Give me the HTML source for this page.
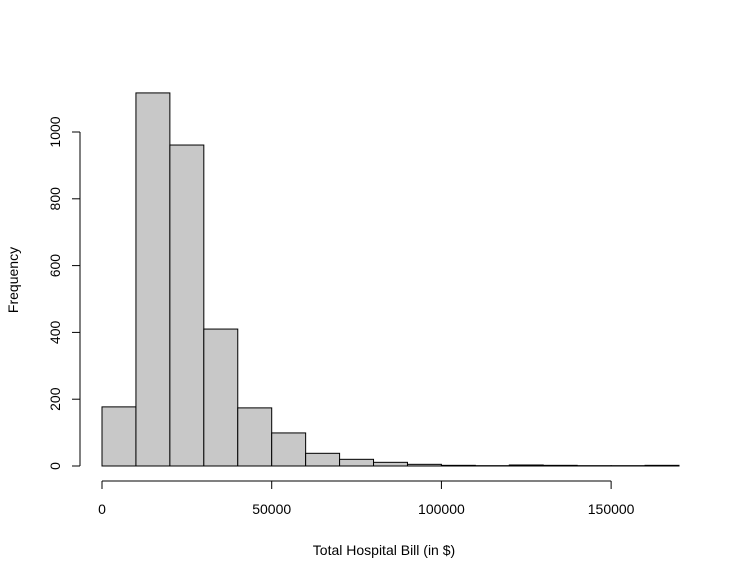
<!DOCTYPE html>
<html><head><meta charset="utf-8"><style>
body{margin:0;background:#fff}
svg{display:block;font-family:"Liberation Sans",sans-serif}
</style></head><body>
<svg id="chart" width="743" height="579" viewBox="0 0 743 579">
<g id="bars"></g>
<g id="xaxis"></g>
<g id="yaxis"></g>
<text x="384" y="555" font-size="14" text-anchor="middle">Total Hospital Bill (in $)</text>
<text transform="translate(18,280) rotate(-90)" font-size="14" text-anchor="middle">Frequency</text>
</svg>
<script>
const binStarts=[0,10000,20000,30000,40000,50000,60000,70000,80000,90000,100000,110000,120000,130000,140000,150000,160000];
const counts=[177,1117,961,410,174,99,38,20,11,5,2,1,3,2,1,1,2];
const xTicks=[0,50000,100000,150000];
const yTicks=[0,200,400,600,800,1000];
const binWidth=10000;
const NS="http://www.w3.org/2000/svg";
const sx=v=>102+v*577/170000;
const sy=v=>466-v*0.334;
function mk(tag,attrs,parent){const e=document.createElementNS(NS,tag);for(const k in attrs)e.setAttribute(k,attrs[k]);parent.appendChild(e);return e;}
const bars=document.getElementById('bars');
binStarts.forEach((b,i)=>{
 const r=mk('rect',{x:sx(b),y:sy(counts[i]),width:sx(b+binWidth)-sx(b),height:sy(0)-sy(counts[i]),fill:'#c8c8c8',stroke:'#000','stroke-width':1},bars);
 
 
});
const xa=document.getElementById('xaxis');
mk('line',{x1:sx(0),x2:sx(xTicks[xTicks.length-1]),y1:481,y2:481,stroke:'#000'},xa);
xTicks.forEach(t=>{
 mk('line',{x1:sx(t),x2:sx(t),y1:481,y2:489,stroke:'#000'},xa);
 const tx=mk('text',{x:sx(t),y:514,'font-size':14,'text-anchor':'middle'},xa);
 tx.textContent=t;
 
 
});
const ya=document.getElementById('yaxis');
mk('line',{x1:80,x2:80,y1:sy(0),y2:sy(yTicks[yTicks.length-1]),stroke:'#000'},ya);
yTicks.forEach(t=>{
 mk('line',{x1:72,x2:80,y1:sy(t),y2:sy(t),stroke:'#000'},ya);
 const tx=mk('text',{transform:`translate(60,${sy(t)}) rotate(-90)`,'font-size':14,'text-anchor':'middle'},ya);
 tx.textContent=t;
 
 
});
</script>
</body></html>
